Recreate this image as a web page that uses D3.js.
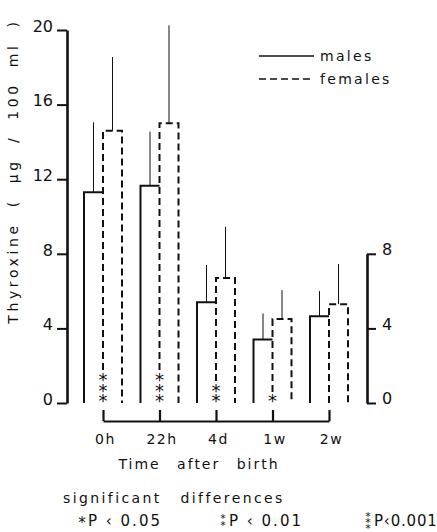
<!DOCTYPE html>
<html>
<head>
<meta charset="utf-8">
<script src="https://cdn.jsdelivr.net/npm/d3@7"></script>
<style>
    body { margin: 0; background: #fff; }
    svg { display: block; }
    text { font-family: "DejaVu Sans", sans-serif; fill: #111; }
</style>
</head>
<body>
<svg width="437" height="532"></svg>
<script>
const times = ["0h", "22h", "4d", "1w", "2w"];
const maleMean = [11.3, 11.65, 5.4, 3.4, 4.65];
const maleSD = [3.75, 2.9, 2.0, 1.4, 1.35];
const femaleMean = [14.6, 15.0, 6.7, 4.5, 5.3];
const femaleSD = [3.95, 5.25, 2.75, 1.55, 2.15];
// number of asterisks under each pair (0 = not significant)
const stars = [3, 3, 2, 1, 0];
const leftTicks = [0, 4, 8, 12, 16, 20];
const rightTicks = [0, 4, 8];

const svg = d3.select("svg");
const barW = 19;

const y = d3.scaleLinear().domain([0, 20]).range([403, 30]);
// x marks the boundary between the male and the female bar of each time point
const x = d3.scalePoint().domain(times).range([103, 329]);

const rows = times.map((t, i) => ({
    t: t, m: maleMean[i], msd: maleSD[i], f: femaleMean[i], fsd: femaleSD[i], s: stars[i]
}));

drawAxes();
drawBars();
drawLegend();
drawNotes();

function styleAxis(g, size) {
    g.attr("font-family", "DejaVu Sans").attr("font-size", size);
    g.selectAll("text").attr("fill", "#111");
    g.selectAll("line, path").attr("stroke", "#111");
}

function drawAxes() {
    const left = svg.append("g")
        .attr("transform", "translate(67,0)")
        .call(d3.axisLeft(y).tickValues(leftTicks).tickSize(10).tickSizeOuter(0).tickPadding(4));
    styleAxis(left, 16);
    left.select(".domain").attr("stroke-width", 2.6);
    left.selectAll(".tick line").attr("stroke-width", 2);
    left.selectAll(".tick text").attr("dy", "0.08em");

    const yR = d3.scaleLinear().domain([0, 8]).range([y(0), y(8)]);
    const right = svg.append("g")
        .attr("transform", "translate(367,0)")
        .call(d3.axisRight(yR).tickValues(rightTicks).tickSize(9).tickSizeOuter(0).tickPadding(6));
    styleAxis(right, 16);
    right.select(".domain").attr("stroke-width", 2.6);
    right.selectAll(".tick line").attr("stroke-width", 2);
    right.selectAll(".tick text").attr("dy", "0.05em");

    const bottom = svg.append("g")
        .attr("transform", "translate(0,421)")
        .call(d3.axisBottom(x).tickSize(-11).tickSizeOuter(0).tickPadding(13));
    styleAxis(bottom, 14);
    bottom.select(".domain").attr("stroke-width", 2.2);
    bottom.selectAll(".tick line").attr("stroke-width", 2.2);
    bottom.selectAll(".tick text").attr("letter-spacing", 1.5).attr("dx", 2);

    svg.append("text")
        .attr("transform", "translate(18,171) rotate(-90)")
        .attr("text-anchor", "middle")
        .attr("font-size", 14)
        .attr("letter-spacing", 3.6)
        .attr("word-spacing", 7)
        .text("Thyroxine ( \u00b5g / 100 ml )");

    svg.append("text")
        .attr("x", 199).attr("y", 469)
        .attr("text-anchor", "middle")
        .attr("font-size", 14)
        .attr("letter-spacing", 2)
        .attr("word-spacing", 10)
        .text("Time after birth");
}

function drawBars() {
    const g = svg.append("g").attr("fill", "none").attr("stroke", "#111");

    // males: open bar, solid
    g.selectAll(".male")
        .data(rows)
        .join("path")
        .attr("class", "male")
        .attr("stroke-width", 2)
        .attr("d", d => `M${x(d.t) - barW},${y(0)}V${y(d.m)}H${x(d.t)}`);

    // females: dashed bar
    g.selectAll(".female")
        .data(rows)
        .join("path")
        .attr("class", "female")
        .attr("stroke-width", 2)
        .attr("stroke-dasharray", "7,4")
        .attr("d", d => `M${x(d.t)},${y(0)}V${y(d.f)}H${x(d.t) + barW}V${y(0)}`);

    // SD lines
    g.selectAll(".msd")
        .data(rows)
        .join("line")
        .attr("class", "msd")
        .attr("stroke-width", 1)
        .attr("x1", d => x(d.t) - barW / 2).attr("x2", d => x(d.t) - barW / 2)
        .attr("y1", d => y(d.m)).attr("y2", d => y(d.m + d.msd));

    g.selectAll(".fsd")
        .data(rows)
        .join("line")
        .attr("class", "fsd")
        .attr("stroke-width", 1)
        .attr("x1", d => x(d.t) + barW / 2).attr("x2", d => x(d.t) + barW / 2)
        .attr("y1", d => y(d.f)).attr("y2", d => y(d.f + d.fsd));

    // asterisks stacked on the shared edge
    const starData = rows.flatMap(d => d3.range(d.s).map(k => ({ t: d.t, k: k })));
    svg.append("g").selectAll("text")
        .data(starData)
        .join("text")
        .attr("x", d => x(d.t))
        .attr("y", d => 407 - d.k * 10.5)
        .attr("text-anchor", "middle")
        .attr("font-size", 18)
        .attr("stroke", "#fff")
        .attr("stroke-width", 3)
        .attr("paint-order", "stroke")
        .text("*");
}

function drawLegend() {
    const items = [{ label: "males", dash: null, y: 56 }, { label: "females", dash: "7,4", y: 79 }];
    const lg = svg.append("g");
    lg.selectAll("line")
        .data(items)
        .join("line")
        .attr("x1", 259).attr("x2", 314)
        .attr("y1", d => d.y).attr("y2", d => d.y)
        .attr("stroke", "#111").attr("stroke-width", 1.6)
        .attr("stroke-dasharray", d => d.dash);
    lg.selectAll("text")
        .data(items)
        .join("text")
        .attr("x", 320).attr("y", d => d.y + 5)
        .attr("font-size", 14)
        .attr("letter-spacing", 2.3)
        .text(d => d.label);
}

function drawNotes() {
    svg.append("text")
        .attr("x", 63).attr("y", 503)
        .attr("font-size", 14)
        .attr("letter-spacing", 2.4)
        .attr("word-spacing", 12)
        .text("significant differences");

    const notes = [{ n: 1, x: 77, text: "P \u2039 0.05" }, { n: 2, x: 218, text: "P \u2039 0.01" }, { n: 3, x: 363, text: "P\u20390.001" }];
    const ng = svg.append("g").selectAll("g")
        .data(notes)
        .join("g")
        .attr("transform", d => `translate(${d.x},526)`);
    ng.append("text")
        .attr("x", 11)
        .attr("font-size", 15)
        .attr("letter-spacing", d => d.n === 3 ? 0.8 : 2)
        .text(d => d.text);
    ng.selectAll(".st")
        .data(d => d3.range(d.n).map(k => ({ n: d.n, k: k })))
        .join("text")
        .attr("class", "st")
        .attr("x", 5)
        .attr("y", d => d.n === 1 ? 2 : (d.n === 2 ? 3 - d.k * 7 : 6 - d.k * 6))
        .attr("text-anchor", "middle")
        .attr("font-size", d => d.n === 1 ? 15 : 11)
        .text("*");
}
</script>
</body>
</html>
